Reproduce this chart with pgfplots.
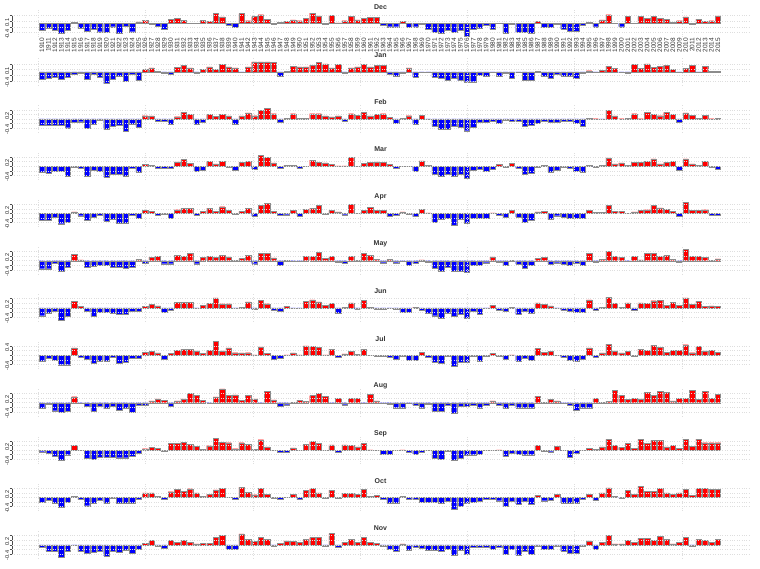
\documentclass[border=0pt]{standalone}
\usepackage{fontspec}
\setmainfont{Liberation Sans}
\usepackage{pgfplots}
\usepackage{pgfplotstable}
\pgfplotsset{compat=1.18}

\definecolor{rbar}{HTML}{FF0000}
\definecolor{bbar}{HTML}{0000FF}

% anomaly per year, 1910-2015, one table per month
\pgfplotstableread[row sep=\\]{v\\
-0.29\\-0.22\\-0.29\\-0.42\\-0.29\\0.04\\-0.22\\-0.32\\-0.25\\-0.36\\
-0.39\\-0.14\\-0.42\\-0.1\\-0.36\\0.07\\0.14\\-0.02\\-0.11\\-0.25\\
0.19\\0.23\\0.14\\0.01\\0.01\\0.14\\0.09\\0.45\\0.29\\-0.07\\
-0.17\\0.43\\0.12\\0.3\\0.38\\0.19\\-0.02\\0.05\\0.09\\0.16\\
0.12\\0.23\\0.45\\0.33\\-0.05\\0.36\\0.03\\0.12\\0.3\\0.16\\
0.23\\0.26\\0.26\\-0.07\\-0.14\\-0.14\\0.09\\-0.17\\-0.14\\-0.02\\
-0.25\\-0.39\\-0.43\\-0.29\\-0.39\\-0.29\\-0.54\\-0.25\\-0.22\\-0.06\\
-0.25\\0.02\\-0.43\\-0.02\\-0.39\\-0.39\\-0.43\\0.09\\-0.17\\-0.17\\
-0.02\\-0.25\\-0.32\\-0.32\\-0.06\\0.06\\-0.14\\0.16\\0.38\\0.02\\
-0.14\\0.3\\0.02\\0.3\\0.23\\0.3\\0.23\\0.19\\0.05\\0.12\\
0.29\\-0.03\\0.19\\0.09\\0.12\\0.33\\}\tabDec

\pgfplotstableread[row sep=\\]{v\\
-0.32\\-0.26\\-0.23\\-0.32\\-0.23\\-0.12\\-0.06\\-0.32\\-0.09\\-0.23\\
-0.51\\-0.32\\-0.2\\-0.41\\-0.12\\-0.38\\0.1\\0.17\\0.02\\-0.07\\
-0.09\\0.2\\0.29\\0.17\\-0.07\\0.12\\0.22\\0.1\\0.33\\0.22\\
0.17\\-0.03\\0.22\\0.43\\0.43\\0.43\\0.41\\-0.17\\0.01\\0.25\\
0.22\\0.22\\0.29\\0.41\\0.35\\0.17\\0.32\\-0.04\\0.17\\0.22\\
0.32\\0.22\\0.29\\0.29\\-0.12\\-0.17\\-0.07\\0.17\\-0.23\\-0.03\\
-0.02\\-0.23\\-0.29\\-0.38\\-0.29\\-0.38\\-0.43\\-0.43\\-0.14\\-0.17\\
-0.03\\-0.17\\-0.07\\-0.26\\-0.03\\-0.36\\-0.36\\0.01\\-0.17\\-0.29\\
-0.12\\-0.17\\-0.17\\-0.26\\-0.04\\0.05\\-0.03\\0.07\\0.25\\0.14\\
-0.03\\-0.07\\0.32\\0.14\\0.35\\0.2\\0.25\\0.29\\0.1\\-0.02\\
0.14\\0.29\\-0.03\\0.25\\0.01\\0.03\\}\tabJan

\pgfplotstableread[row sep=\\]{v\\
-0.29\\-0.29\\-0.29\\-0.26\\-0.38\\-0.14\\-0.12\\-0.41\\-0.22\\-0.04\\
-0.45\\-0.32\\-0.26\\-0.55\\-0.22\\-0.35\\0.14\\0.13\\-0.1\\-0.1\\
-0.22\\0.1\\0.29\\0.2\\-0.22\\-0.14\\0.2\\0.12\\0.2\\0.13\\
-0.22\\0.13\\0.26\\0.14\\0.38\\0.45\\0.23\\-0.14\\0.03\\0.23\\
0.02\\0.03\\0.23\\0.23\\0.13\\0.09\\0.13\\-0.09\\0.23\\0.17\\
0.29\\0.13\\0.2\\0.23\\0.06\\-0.19\\0.03\\0.14\\-0.22\\0.17\\
-0.01\\-0.32\\-0.43\\-0.43\\-0.32\\-0.36\\-0.51\\-0.36\\-0.14\\-0.14\\
-0.09\\-0.19\\-0.06\\-0.09\\-0.1\\-0.33\\-0.29\\-0.19\\-0.09\\-0.14\\
-0.14\\-0.1\\-0.1\\-0.19\\-0.33\\0.02\\0.01\\-0.01\\0.39\\0.13\\
0.01\\0.02\\0.23\\0.01\\0.29\\0.2\\0.14\\0.29\\0.2\\-0.16\\
0.26\\0.17\\0.02\\0.17\\0.01\\0.03\\}\tabFeb

\pgfplotstableread[row sep=\\]{v\\
-0.26\\-0.32\\-0.22\\-0.22\\-0.43\\-0.04\\-0.1\\-0.43\\-0.16\\-0.22\\
-0.48\\-0.36\\-0.36\\-0.43\\-0.1\\-0.26\\0.07\\0.04\\-0.1\\-0.1\\
-0.1\\0.19\\0.29\\0.12\\-0.22\\-0.16\\0.2\\0.1\\0.2\\-0.03\\
-0.16\\0.16\\0.2\\-0.12\\0.48\\0.39\\0.14\\-0.1\\0.04\\0.04\\
-0.1\\-0.01\\0.26\\0.17\\0.14\\0.09\\0.01\\0.01\\0.38\\-0.01\\
0.12\\0.17\\0.19\\0.17\\0.07\\-0.07\\-0.01\\-0.01\\-0.22\\0.23\\
0.04\\-0.33\\-0.43\\-0.36\\-0.43\\-0.33\\-0.54\\-0.17\\-0.14\\-0.22\\
-0.13\\0.07\\-0.04\\0.13\\-0.1\\-0.36\\-0.29\\-0.04\\0.03\\-0.25\\
-0.16\\-0.06\\-0.1\\-0.23\\-0.28\\0.04\\-0.03\\0.04\\0.36\\0.1\\
0.14\\0.04\\0.17\\0.16\\0.2\\0.32\\0.1\\0.16\\0.2\\-0.16\\
0.32\\0.1\\0.04\\0.2\\-0.06\\-0.14\\}\tabMar

\pgfplotstableread[row sep=\\]{v\\
-0.3\\-0.3\\-0.15\\-0.45\\-0.37\\0.07\\-0.1\\-0.3\\-0.18\\-0.07\\
-0.33\\-0.25\\-0.43\\-0.43\\-0.07\\-0.2\\0.13\\0.08\\-0.09\\-0.02\\
-0.2\\0.16\\0.22\\0.22\\-0.09\\0.09\\0.22\\0.09\\0.29\\0.13\\
-0.03\\0.09\\0.22\\-0.12\\0.34\\0.45\\0.08\\-0.07\\-0.06\\0.13\\
-0.12\\0.19\\0.22\\0.34\\-0.02\\0.13\\0.07\\-0.06\\0.38\\0.01\\
0.13\\0.25\\0.13\\0.13\\-0.14\\-0.09\\0.07\\-0.02\\-0.14\\0.19\\
0.02\\-0.37\\-0.27\\-0.22\\-0.52\\-0.25\\-0.43\\-0.22\\-0.22\\-0.22\\
0.02\\-0.09\\-0.18\\0.12\\-0.15\\-0.38\\-0.3\\0.07\\0.08\\-0.27\\
-0.1\\-0.15\\-0.2\\-0.2\\-0.2\\0.12\\0.04\\0.04\\0.34\\0.09\\
0.09\\0.01\\0.07\\0.12\\0.16\\0.34\\0.24\\0.19\\0.09\\-0.13\\
0.47\\0.13\\0.13\\0.16\\-0.07\\-0.07\\}\tabApr

\pgfplotstableread[row sep=\\]{v\\
-0.35\\-0.35\\-0.12\\-0.45\\-0.27\\0.28\\0.03\\-0.27\\-0.24\\-0.2\\
-0.18\\-0.27\\-0.3\\-0.31\\-0.27\\0.05\\-0.12\\0.15\\0.19\\-0.13\\
-0.13\\0.22\\0.18\\0.31\\-0.13\\0.15\\0.19\\0.15\\0.22\\0.16\\
0.02\\0.09\\0.22\\-0.13\\0.31\\0.31\\0.12\\-0.18\\0.01\\-0.02\\
-0.02\\0.19\\0.19\\0.35\\0.09\\0.19\\-0.06\\-0.12\\0.2\\0.02\\
0.32\\0.22\\0.06\\-0.09\\0.05\\-0.09\\-0.02\\-0.18\\-0.12\\0.03\\
-0.06\\-0.32\\-0.47\\-0.27\\-0.47\\-0.44\\-0.5\\-0.2\\-0.18\\-0.09\\
0.16\\-0.06\\-0.18\\0.01\\-0.15\\-0.32\\-0.2\\0.1\\0.15\\-0.15\\
-0.09\\-0.15\\-0.2\\-0.12\\-0.2\\0.31\\-0.06\\0.06\\0.41\\0.2\\
0.15\\-0.02\\0.19\\0.03\\0.32\\0.32\\0.18\\0.22\\0.06\\-0.06\\
0.5\\0.19\\0.2\\0.15\\0.02\\0.08\\}\tabMay

\pgfplotstableread[row sep=\\]{v\\
-0.34\\-0.24\\-0.15\\-0.54\\-0.37\\0.28\\0.06\\-0.15\\-0.38\\-0.2\\
-0.19\\-0.25\\-0.28\\-0.28\\-0.15\\-0.16\\0.07\\0.15\\0.09\\-0.18\\
-0.09\\0.24\\0.24\\0.24\\-0.02\\0.12\\0.2\\0.43\\0.18\\0.18\\
-0.02\\0.02\\0.26\\-0.07\\0.34\\0.18\\-0.1\\-0.15\\0.07\\-0.01\\
-0.03\\0.28\\0.35\\0.26\\0.1\\0.19\\-0.22\\0.02\\0.22\\-0.07\\
0.32\\0.01\\-0.06\\-0.06\\-0.01\\-0.07\\-0.2\\-0.2\\0.02\\-0.12\\
-0.22\\-0.34\\-0.44\\-0.22\\-0.38\\-0.28\\-0.44\\-0.16\\-0.28\\-0.02\\
0.12\\-0.09\\-0.15\\0.02\\-0.28\\-0.15\\-0.22\\0.22\\0.16\\0.09\\
-0.02\\-0.1\\-0.15\\-0.2\\-0.2\\0.35\\-0.1\\0.03\\0.47\\0.19\\
0.01\\0.22\\-0.12\\0.22\\0.19\\0.31\\0.32\\0.1\\0.25\\0.12\\
0.43\\0.16\\0.29\\0.06\\0.09\\0.06\\}\tabJun

\pgfplotstableread[row sep=\\]{v\\
-0.27\\-0.13\\-0.22\\-0.41\\-0.41\\0.32\\-0.08\\-0.16\\-0.33\\-0.25\\
-0.25\\-0.08\\-0.36\\-0.3\\-0.13\\-0.13\\0.13\\0.16\\0.1\\-0.17\\
0.08\\0.21\\0.27\\0.27\\0.19\\0.08\\0.21\\0.6\\0.19\\0.32\\
0.11\\0.1\\0.11\\0.02\\0.37\\0.08\\-0.17\\-0.11\\0.02\\0.1\\
0.02\\0.41\\0.38\\0.35\\0.02\\0.27\\-0.08\\0.06\\0.17\\0.05\\
0.27\\0.01\\-0.02\\-0.02\\-0.09\\-0.16\\-0.02\\-0.21\\-0.21\\0.13\\
-0.09\\-0.3\\-0.33\\-0.03\\-0.49\\-0.29\\-0.29\\-0.06\\-0.24\\-0.06\\
0.08\\-0.03\\-0.16\\0.02\\-0.24\\-0.14\\-0.22\\0.3\\0.13\\0.17\\
0.01\\-0.09\\-0.21\\-0.24\\-0.19\\0.32\\-0.08\\0.1\\0.49\\0.19\\
0.1\\0.17\\-0.06\\0.27\\0.21\\0.44\\0.35\\0.14\\0.21\\0.21\\
0.46\\0.11\\0.38\\0.19\\0.22\\0.14\\}\tabJul

\pgfplotstableread[row sep=\\]{v\\
-0.26\\-0.08\\-0.35\\-0.42\\-0.38\\0.26\\-0.02\\-0.15\\-0.37\\-0.15\\
-0.26\\-0.15\\-0.31\\-0.26\\-0.42\\-0.11\\-0.11\\0.08\\0.17\\0.11\\
-0.14\\0.08\\0.17\\0.4\\0.31\\0.11\\-0.02\\0.25\\0.6\\0.31\\
0.34\\0.11\\0.31\\0.17\\-0.02\\0.49\\0.12\\-0.14\\-0.09\\0.01\\
0.11\\0.05\\0.31\\0.42\\0.28\\-0.02\\0.2\\-0.09\\0.2\\0.2\\
-0.02\\0.35\\0.08\\-0.02\\-0.08\\-0.22\\-0.22\\-0.02\\-0.11\\-0.22\\
-0.08\\-0.37\\-0.37\\-0.12\\-0.46\\-0.15\\-0.15\\-0.12\\-0.22\\-0.11\\
0.08\\-0.11\\-0.26\\-0.11\\-0.22\\-0.22\\-0.22\\0.29\\0.02\\0.15\\
0.08\\-0.02\\-0.11\\-0.34\\-0.22\\-0.22\\0.2\\0.01\\0.06\\0.54\\
0.32\\0.14\\0.2\\0.17\\0.45\\0.31\\0.48\\0.45\\0.08\\0.2\\
0.2\\0.55\\0.15\\0.48\\0.2\\0.37\\}\tabAug

\pgfplotstableread[row sep=\\]{v\\
-0.07\\-0.12\\-0.25\\-0.45\\-0.2\\0.2\\-0.02\\-0.35\\-0.4\\-0.3\\
-0.32\\-0.3\\-0.33\\-0.33\\-0.25\\-0.15\\0.06\\0.12\\0.09\\-0.06\\
0.29\\0.29\\0.35\\0.26\\0.17\\0.03\\0.19\\0.52\\0.35\\0.32\\
0.06\\0.32\\0.26\\0.03\\0.45\\0.14\\-0.01\\-0.09\\-0.09\\0.1\\
-0.01\\0.26\\0.38\\0.29\\-0.01\\0.23\\-0.09\\0.23\\0.2\\0.14\\
0.29\\0.01\\-0.01\\-0.17\\-0.17\\-0.01\\0.01\\-0.09\\-0.17\\-0.09\\
-0.02\\-0.35\\-0.4\\-0.06\\-0.45\\-0.35\\-0.23\\-0.2\\-0.17\\-0.02\\
-0.02\\0.01\\-0.28\\-0.13\\-0.17\\-0.2\\-0.2\\0.22\\-0.03\\-0.07\\
0.16\\-0.01\\-0.3\\-0.13\\-0.02\\0.07\\0.03\\0.14\\0.46\\0.2\\
0.12\\0.29\\0.09\\0.46\\0.29\\0.43\\0.41\\0.14\\0.22\\0.09\\
0.48\\0.17\\0.48\\0.32\\0.32\\0.32\\}\tabSep

\pgfplotstableread[row sep=\\]{v\\
-0.19\\-0.1\\-0.25\\-0.41\\-0.2\\0.04\\-0.09\\-0.36\\-0.26\\-0.13\\
-0.26\\-0.03\\-0.26\\-0.25\\-0.23\\-0.06\\0.2\\0.2\\0.04\\-0.09\\
0.25\\0.36\\0.28\\0.38\\0.2\\0.04\\0.14\\0.33\\0.41\\0.01\\
-0.06\\0.45\\0.23\\0.12\\0.41\\0.14\\-0.03\\-0.09\\0.02\\0.14\\
-0.09\\0.32\\0.39\\0.2\\-0.03\\0.32\\-0.03\\0.17\\0.17\\0.14\\
0.36\\0.04\\0.09\\-0.06\\-0.26\\-0.23\\0.04\\-0.09\\-0.09\\-0.2\\
-0.2\\-0.2\\-0.26\\-0.17\\-0.52\\-0.38\\-0.26\\-0.2\\-0.17\\-0.09\\
-0.06\\-0.14\\-0.38\\-0.17\\-0.28\\-0.17\\-0.3\\0.1\\-0.14\\-0.12\\
0.14\\-0.23\\-0.23\\-0.26\\-0.06\\0.13\\-0.13\\0.2\\0.42\\0.04\\
-0.03\\0.3\\0.14\\0.48\\0.28\\0.28\\0.39\\0.2\\0.14\\0.2\\
0.36\\0.09\\0.39\\0.39\\0.36\\0.36\\}\tabOct

\pgfplotstableread[row sep=\\]{v\\
-0.1\\-0.26\\-0.26\\-0.52\\-0.26\\-0.01\\-0.29\\-0.36\\-0.33\\-0.26\\
-0.48\\-0.29\\-0.33\\-0.25\\-0.38\\-0.17\\0.06\\0.19\\-0.06\\-0.13\\
0.19\\0.1\\0.19\\0.1\\0.04\\0.06\\0.06\\0.33\\0.41\\-0.19\\
-0.19\\0.48\\0.25\\0.16\\0.32\\0.25\\-0.07\\0.07\\0.17\\0.16\\
0.12\\0.23\\0.32\\0.32\\-0.04\\0.49\\-0.09\\0.12\\0.23\\0.12\\
0.32\\0.1\\0.06\\-0.06\\-0.17\\-0.29\\0.04\\-0.25\\-0.09\\-0.13\\
-0.25\\-0.25\\-0.29\\-0.19\\-0.45\\-0.25\\-0.42\\-0.12\\-0.09\\-0.12\\
-0.19\\-0.1\\-0.42\\-0.19\\-0.45\\-0.29\\-0.42\\-0.04\\-0.17\\-0.17\\
-0.04\\-0.26\\-0.35\\-0.35\\-0.04\\0.17\\-0.17\\0.1\\0.41\\0.04\\
0.04\\0.19\\0.1\\0.28\\0.28\\0.19\\0.36\\0.23\\0.04\\0.1\\
0.32\\-0.06\\0.23\\0.19\\0.12\\0.23\\}\tabNov

\pgfplotsset{
  panel/.style={
    scale only axis, width=737pt, height=28.5pt, anchor=south west,
    xmin=1905.34, xmax=2019.83, ymin=-0.58, ymax=0.66,
    ybar, bar width=0.833,
    axis line style={draw=none},
    xtick={1909.417,1926.083,1942.75,1959.417,1976.083,1992.75,2009.417},
    xticklabels={}, xtick style={draw=none},
    xmajorgrids, ymajorgrids,
    grid style={dotted, black!13, line width=0.45pt},
    axis on top,
    tick align=outside, major tick length=2pt,
    ytick pos=left,
    ytick style={black!70, line width=0.4pt},
    yticklabel style={rotate=90, anchor=south, inner sep=0.5pt, xshift=-1.5pt,
      font=\fontsize{5.6}{6}\selectfont, text=black!85},
    /pgf/number format/assume math mode=true,
    every axis title/.style={font=\bfseries\fontsize{7}{8}\selectfont,
      text=black!80, at={(0.5,1)}, anchor=center, yshift=1.4pt},
    clip=false,
  },
  pos/.style={fill=rbar, draw=black!45, line width=0.3pt, bar shift=0pt,
    restrict y to domain=0:1},
  neg/.style={fill=bbar, draw=black!45, line width=0.3pt, bar shift=0pt,
    restrict y to domain=-1:0},
  years/.style={
    extra x ticks={1910,1911,...,2015},
    extra x tick style={grid=none, major tick length=0pt,
      /pgf/number format/1000 sep={},
      xticklabel style={rotate=90, anchor=east, inner sep=1pt,
        font=\fontsize{6.5}{6.5}\selectfont, text=black!80}},
  },
}

% #1 bottom of axis (pt from top), #2 month, #3 ticks, #4 labels, #5 table, #6 extra, #7 top tick
\newcommand\panel[7]{%
  \begin{axis}[panel, at={(12pt,-#1pt)}, title={#2}, ytick={#3}, yticklabels={#4}, #6]
    \addplot[pos] table[x expr=\coordindex+1910, y=v] {#5};
    \addplot[neg] table[x expr=\coordindex+1910, y=v] {#5};
    \draw[black!70, line width=0.4pt] (axis cs:1905.34,-0.4) -- (axis cs:1905.34,#7);
  \end{axis}}

\begin{document}
\begin{tikzpicture}
\useasboundingbox (0,0) rectangle (760pt,-569pt);
\panel{36.8}{Dec}{-0.4,-0.15,0.1,0.35}{-0.4,,0.1,}{\tabDec}{years}{0.35}
\panel{85.2}{Jan}{-0.4,-0.15,0.1,0.35}{-0.4,,0.1,}{\tabJan}{}{0.35}
\panel{132.3}{Feb}{-0.4,-0.2,0,0.2,0.4}{-0.4,,,0.2,}{\tabFeb}{}{0.4}
\panel{179.5}{Mar}{-0.4,-0.2,0,0.2,0.4}{-0.4,,,0.2,}{\tabMar}{}{0.4}
\panel{226.7}{Apr}{-0.4,-0.2,0,0.2,0.4}{-0.4,,,0.2,}{\tabApr}{}{0.4}
\panel{274.0}{May}{-0.4,-0.2,0,0.2,0.4}{-0.4,,,0.2,}{\tabMay}{}{0.4}
\panel{321.2}{Jun}{-0.4,-0.2,0,0.2,0.4}{-0.4,,,0.2,}{\tabJun}{}{0.4}
\panel{368.6}{Jul}{-0.4,-0.2,0,0.2,0.4}{-0.4,,,,0.4}{\tabJul}{}{0.4}
\panel{416.0}{Aug}{-0.4,-0.2,0,0.2,0.4}{-0.4,,,0.2,}{\tabAug}{}{0.4}
\panel{463.4}{Sep}{-0.4,-0.2,0,0.2,0.4}{-0.4,,,0.2,}{\tabSep}{}{0.4}
\panel{510.8}{Oct}{-0.4,-0.2,0,0.2,0.4}{-0.4,,,0.2,}{\tabOct}{}{0.4}
\panel{558.2}{Nov}{-0.4,-0.2,0,0.2,0.4}{-0.4,,,0.2,}{\tabNov}{}{0.4}
\end{tikzpicture}
\end{document}
